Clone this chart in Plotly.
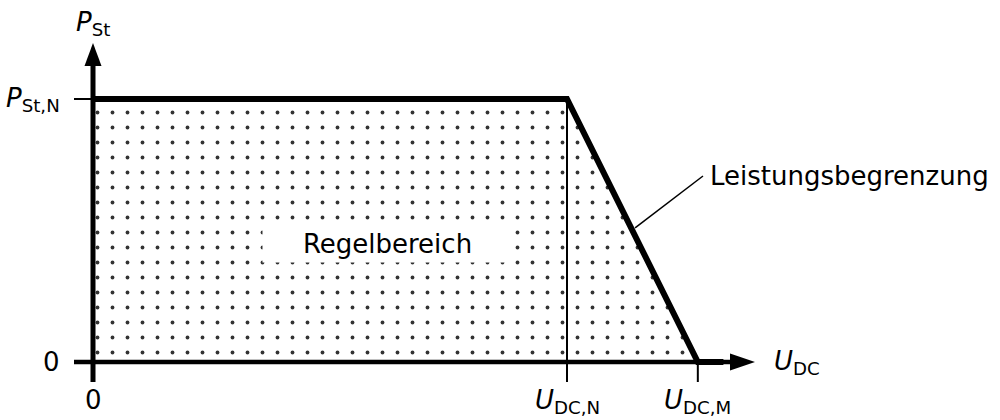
import plotly.graph_objects as go

# ---- data (normalised schematic values) ----
U_N = 1.0          # U_DC,N
U_M = 1.276        # U_DC,M
P_N = 1.0          # P_St,N
U_END = 1.33       # end of bold zero-power segment along axis

curve_u = [0.0, U_N, U_M, U_END]
curve_p = [P_N, P_N, 0.0, 0.0]

region_u = [0.0, 0.0, U_N, U_M, 0.0]
region_p = [0.0, P_N, P_N, 0.0, 0.0]

x_ticks = [0.0, U_N, U_M]
x_tick_labels = ["0", "<i>U</i><sub>DC,N</sub>", "<i>U</i><sub>DC,M</sub>"]
y_ticks = [0.0, P_N]
y_tick_labels = ["0", "<i>P</i><sub>St,N</sub>"]

# ---- geometry / scale ----
W, H = 1000, 420
X0_PX, Y0_PX = 93, 362          # origin in pixels
SX = 474.0                       # px per x unit
SY = 263.0                       # px per y unit
xr = [-X0_PX / SX, (W - X0_PX) / SX]
yr = [-(H - Y0_PX) / SY, Y0_PX / SY]

def dx(px):
    return px / SX

def dy(px):
    return px / SY

FONT = "DejaVu Sans"
FS = 26
BLACK = "#000000"

tick_len = dy(20)
x_axis_end = dx(662)     # arrow tip
y_axis_end = dy(319)
arrow_len_x = dx(25)
arrow_half_w_x = dy(8.5)
arrow_len_y = dy(23)
arrow_half_w_y = dx(8.5)

fig = go.Figure()

# dotted operating region
fig.add_trace(go.Scatter(
    x=region_u, y=region_p, mode="lines", fill="toself",
    line=dict(width=0, color="rgba(0,0,0,0)"),
    fillcolor="white",
    fillpattern=dict(shape=".", size=15, solidity=0.05,
                     fgcolor="#333333", bgcolor="white", fgopacity=1),
    hoverinfo="skip", showlegend=False))

# thin vertical line at U_DC,N
fig.add_trace(go.Scatter(
    x=[U_N, U_N], y=[P_N, -tick_len], mode="lines",
    line=dict(width=2, color=BLACK), hoverinfo="skip", showlegend=False))
# thin tick at U_DC,M
fig.add_trace(go.Scatter(
    x=[U_M, U_M], y=[0, -tick_len], mode="lines",
    line=dict(width=2, color=BLACK), hoverinfo="skip", showlegend=False))
# thin tick at P_St,N
fig.add_trace(go.Scatter(
    x=[-dx(19), 0], y=[P_N, P_N], mode="lines",
    line=dict(width=2, color=BLACK), hoverinfo="skip", showlegend=False))

# axes lines
fig.add_trace(go.Scatter(
    x=[-dx(19), x_axis_end - arrow_len_x + dx(1)], y=[0, 0], mode="lines",
    line=dict(width=4.5, color=BLACK), hoverinfo="skip", showlegend=False))
fig.add_trace(go.Scatter(
    x=[0, 0], y=[-tick_len, y_axis_end - arrow_len_y + dy(1)], mode="lines",
    line=dict(width=5, color=BLACK), hoverinfo="skip", showlegend=False))

# bold power-limit curve
fig.add_trace(go.Scatter(
    x=curve_u, y=curve_p, mode="lines",
    line=dict(width=6, color=BLACK), hoverinfo="skip", showlegend=False))

# leader line to label
lead_p = 0.51
lead_u = U_N + (P_N - lead_p) / P_N * (U_M - U_N) + dx(4)
label_u = dx(703 - X0_PX)
label_p = dy(Y0_PX - 176)
fig.add_trace(go.Scatter(
    x=[lead_u, label_u], y=[lead_p, label_p], mode="lines",
    line=dict(width=1.5, color=BLACK), hoverinfo="skip", showlegend=False))

# arrowheads
shapes = [
    dict(type="path", xref="x", yref="y", layer="above",
         path=(f"M {x_axis_end - arrow_len_x},{-arrow_half_w_x} "
               f"L {x_axis_end},0 L {x_axis_end - arrow_len_x},{arrow_half_w_x} Z"),
         fillcolor=BLACK, line=dict(width=0)),
    dict(type="path", xref="x", yref="y", layer="above",
         path=(f"M {-arrow_half_w_y},{y_axis_end - arrow_len_y} "
               f"L 0,{y_axis_end} L {arrow_half_w_y},{y_axis_end - arrow_len_y} Z"),
         fillcolor=BLACK, line=dict(width=0)),
]

ann = []
font = dict(family=FONT, size=FS, color=BLACK)
# x tick labels
for u, t in zip(x_ticks, x_tick_labels):
    ann.append(dict(x=u, y=-dy(21), text=t, showarrow=False, xanchor="center",
                    yanchor="top", font=font, xref="x", yref="y"))
# y tick labels
for p, t in zip(y_ticks, y_tick_labels):
    ann.append(dict(x=-dx(31), y=p, text=t, showarrow=False, xanchor="right",
                    yanchor="middle", font=font, xref="x", yref="y"))
# axis titles
ann.append(dict(x=0, y=dy(Y0_PX - 23), text="<i>P</i><sub>St</sub>", showarrow=False,
                xanchor="center", yanchor="middle", font=font))
ann.append(dict(x=dx(772 - X0_PX), y=0, text="<i>U</i><sub>DC</sub>", showarrow=False,
                xanchor="left", yanchor="middle", font=font))
# region label with white box
ann.append(dict(x=dx(387.5 - X0_PX), y=dy(Y0_PX - 243.5), text="Regelbereich",
                showarrow=False, xanchor="center", yanchor="middle", font=font,
                bgcolor="white", width=249, height=37, borderpad=0))
# curve label
ann.append(dict(x=dx(708 - X0_PX), y=label_p, text="Leistungsbegrenzung",
                showarrow=False, xanchor="left", yanchor="middle", font=font))

fig.update_layout(
    width=W, height=H,
    margin=dict(l=0, r=0, t=0, b=0),
    paper_bgcolor="white", plot_bgcolor="white",
    xaxis=dict(range=xr, visible=False, fixedrange=True),
    yaxis=dict(range=yr, visible=False, fixedrange=True),
    shapes=shapes, annotations=ann, showlegend=False,
    hovermode=False,
    font=font,
)

fig.write_html("out.html", config={"displayModeBar": False},
               post_script="document.body.style.margin='0';")
